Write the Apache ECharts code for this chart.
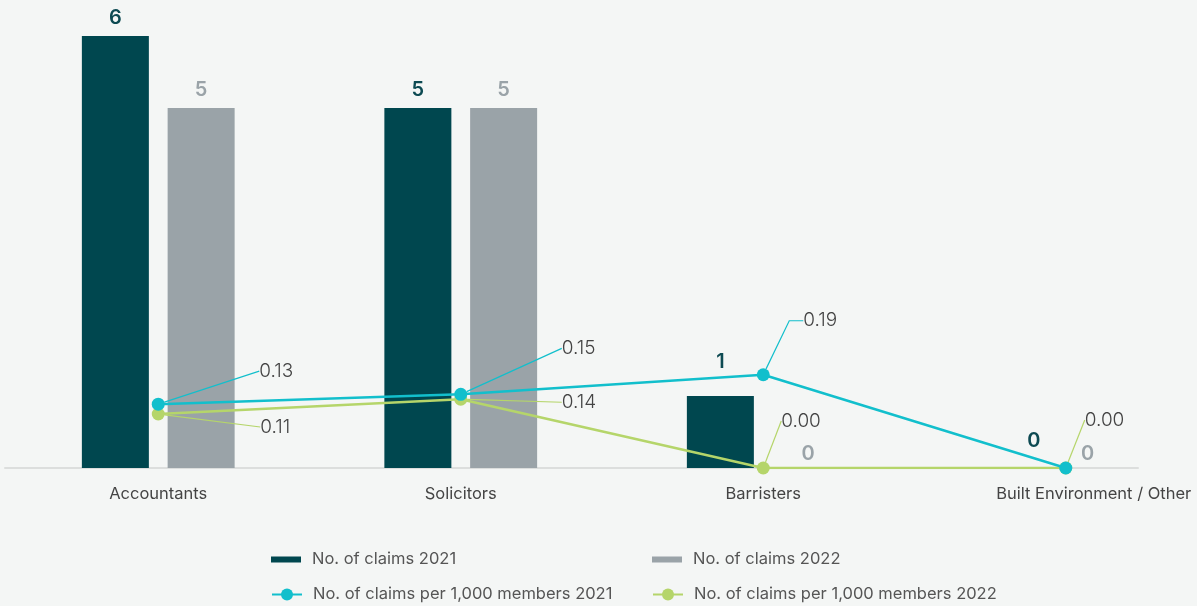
<!DOCTYPE html>
<html>
<head>
<meta charset="utf-8">
<script src="https://cdn.jsdelivr.net/npm/echarts@6/dist/echarts.min.js"></script>
<style>
  html, body { margin: 0; padding: 0; background: #f4f6f5; }
  #chart { width: 1197px; height: 606px; }
</style>
</head>
<body>
<div id="chart"></div>
<script>
// Professional indemnity claims by profession
const categories = ['Accountants', 'Solicitors', 'Barristers', 'Built Environment / Other'];
const claims2021 = [6, 5, 1, 0];
const claims2022 = [5, 5, 0, 0];
const perThousand2021 = [0.13, 0.15, 0.19, 0.00];
const perThousand2022 = [0.11, 0.14, 0.00, 0.00];
const seriesNames = [
  'No. of claims 2021',
  'No. of claims 2022',
  'No. of claims per 1,000 members 2021',
  'No. of claims per 1,000 members 2022'
];

// label nudges [dx, dy] so count labels clear the lines
const barLabelShift2021 = [[0, 0], [0, 0], [0, -16], [11, -9]];
const barLabelShift2022 = [[0, 0], [0, 0], [2, 4], [-21, 4]];
// rate label placement relative to its point [dx, dy]; null = no label
const rateLabelPos2021 = [[94, -33], [94, -46], [33, -54], null];
const rateLabelPos2022 = [[95, 13], [94, 3], [11, -47], [12, -48]];
// horizontal leader tail per point
const rateLeaderTail2021 = [0, 0, 14, 0];
const rateLeaderTail2022 = [0, 0, 0, 0];

const C_DARK = '#00474f';
const C_GREY = '#9aa3a8';
const C_CYAN = '#12bfcc';
const C_LIME = '#b5d56a';
const FONT = 'Inter, "Noto Sans", sans-serif';

function barData(values, shifts) {
  return values.map((v, i) => ({ value: v, label: { offset: shifts[i] } }));
}
function rateData(values, positions, tails) {
  return values.map((v, i) => positions[i]
    ? { value: v, labelLine: { length2: tails[i] } }
    : { value: v, label: { show: false }, labelLine: { show: false } });
}
function rateLayout(positions) {
  return function (p) {
    const off = positions[p.dataIndex];
    if (!off) return {};
    return {
      x: p.rect.x + p.rect.width / 2 + off[0],
      y: p.rect.y + p.rect.height / 2 + off[1],
      align: 'left',
      verticalAlign: 'middle'
    };
  };
}
function rateSeries(name, values, positions, tails, color, z) {
  return {
    name: name,
    type: 'line',
    yAxisIndex: 1,
    z: z,
    data: rateData(values, positions, tails),
    symbol: 'circle',
    symbolSize: 13,
    lineStyle: { color: color, width: 2.5 },
    itemStyle: { color: color },
    label: {
      show: true,
      position: 'right',
      formatter: p => p.value.toFixed(2),
      fontFamily: FONT,
      fontSize: 19,
      fontWeight: 300,
      color: '#444',
      padding: [0, 0, 0, 7]
    },
    labelLine: { show: true, length2: 0, lineStyle: { color: color, width: 1.2 } },
    labelLayout: rateLayout(positions),
    emphasis: { disabled: true }
  };
}
function barSeries(name, values, shifts, color, labelColor) {
  return {
    name: name,
    type: 'bar',
    barWidth: 67,
    barGap: '28%',
    data: barData(values, shifts),
    itemStyle: { color: color },
    label: {
      show: true,
      position: 'top',
      distance: 8,
      fontFamily: FONT,
      fontSize: 20,
      fontWeight: 600,
      color: labelColor
    },
    emphasis: { disabled: true }
  };
}
function legendItem(name, icon, left, top) {
  const item = icon ? { name: name, icon: icon } : { name: name };
  return {
    left: left,
    top: top,
    padding: 0,
    itemWidth: 30,
    itemHeight: 15,
    selectedMode: false,
    textStyle: { fontFamily: FONT, fontSize: 16.5, color: '#555', padding: [0, 0, 0, 6] },
    data: [item]
  };
}

const BAR_ICON = 'path://M0,0H30V6H0Z';

const chart = echarts.init(document.getElementById('chart'), null, { renderer: 'canvas' });
chart.setOption({
  backgroundColor: '#f4f6f5',
  animation: false,
  textStyle: { fontFamily: FONT },
  grid: [
    { left: 7, width: 1210, top: 36, bottom: 138, outerBoundsMode: 'none', containLabel: false },
    // baseline rule
    { left: 5, right: 59, top: 36, bottom: 138, outerBoundsMode: 'none', containLabel: false }
  ],
  xAxis: [
    {
      type: 'category',
      gridIndex: 0,
      data: categories,
      axisLine: { show: false },
      axisTick: { show: false },
      axisLabel: {
        interval: 0,
        hideOverlap: false,
        margin: 18,
        fontFamily: FONT,
        fontSize: 16.5,
        color: '#444',
        formatter: (v, i) => i === categories.length - 1 ? '{last|' + v + '}' : v,
        rich: { last: { fontFamily: FONT, fontSize: 16.5, color: '#444', padding: [0, 0, 0, 56] } }
      }
    },
    {
      type: 'value',
      gridIndex: 1,
      min: 0,
      max: 1,
      axisLine: { show: true, lineStyle: { color: '#dcdedd', width: 2 } },
      axisTick: { show: false },
      axisLabel: { show: false },
      splitLine: { show: false }
    }
  ],
  yAxis: [
    { type: 'value', gridIndex: 0, min: 0, max: 6, show: false, splitLine: { show: false } },
    { type: 'value', gridIndex: 0, min: 0, max: 0.88, show: false, splitLine: { show: false } },
    { type: 'value', gridIndex: 1, min: 0, max: 1, show: false, splitLine: { show: false } }
  ],
  legend: [
    legendItem(seriesNames[0], BAR_ICON, 271, 551),
    legendItem(seriesNames[1], BAR_ICON, 652, 551),
    legendItem(seriesNames[2], null, 271, 586),
    legendItem(seriesNames[3], null, 652, 586)
  ],
  series: [
    barSeries(seriesNames[0], claims2021, barLabelShift2021, C_DARK, '#0d4a52'),
    barSeries(seriesNames[1], claims2022, barLabelShift2022, C_GREY, C_GREY),
    rateSeries(seriesNames[2], perThousand2021, rateLabelPos2021, rateLeaderTail2021, C_CYAN, 4),
    rateSeries(seriesNames[3], perThousand2022, rateLabelPos2022, rateLeaderTail2022, C_LIME, 3)
  ]
});
</script>
</body>
</html>
